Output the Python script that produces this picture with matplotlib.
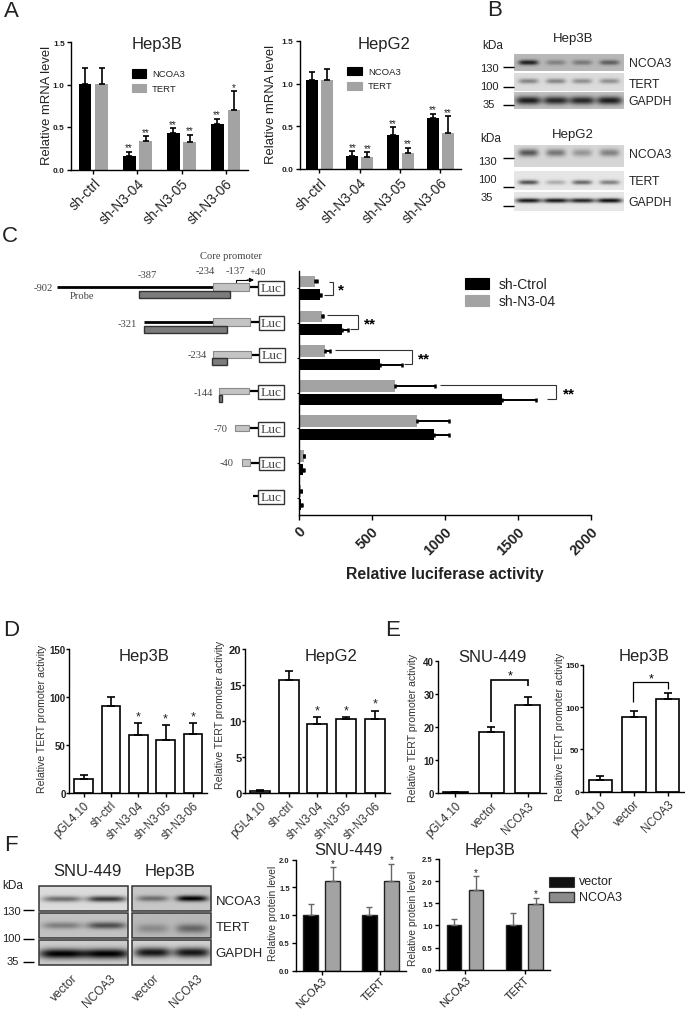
import numpy as np
import matplotlib
matplotlib.use('Agg')
import matplotlib.pyplot as plt

plt.rcParams['font.family'] = ['Liberation Sans', 'DejaVu Sans']

W, H = 685, 1012
GRAY = '#a3a3a3'
TXT = '#222222'

# panel A
a_groups = ['sh-ctrl', 'sh-N3-04', 'sh-N3-05', 'sh-N3-06']
a1_ncoa3 = [1.01, 0.16, 0.43, 0.53]
a1_ncoa3_err = [0.18, 0.05, 0.06, 0.07]
a1_tert = [1.01, 0.34, 0.32, 0.70]
a1_tert_err = [0.19, 0.05, 0.09, 0.22]
a2_ncoa3 = [1.04, 0.15, 0.40, 0.60]
a2_ncoa3_err = [0.10, 0.06, 0.09, 0.05]
a2_tert = [1.04, 0.14, 0.19, 0.42]
a2_tert_err = [0.13, 0.06, 0.06, 0.20]
a1_stars = [['', ''], ['**', '**'], ['**', '**'], ['**', '*']]
a2_stars = [['', ''], ['**', '**'], ['**', '**'], ['**', '**']]

# panel B, band strength per lane
b_lanes = [0.13, 0.38, 0.62, 0.87]
b1_ncoa3 = [0.85, 0.3, 0.35, 0.5]
b1_tert = [0.4, 0.4, 0.35, 0.35]
b1_gapdh = [0.85, 0.8, 0.8, 0.85]
b2_ncoa3 = [0.6, 0.45, 0.3, 0.4]
b2_tert = [0.65, 0.25, 0.55, 0.45]
b2_gapdh = [0.9, 0.9, 0.85, 0.95]

# panel C
c_rows = 7
c_gray = [110, 164, 178, 660, 813, 35, 16]
c_gray_err = [16, 7, 39, 272, 217, 6, 4]
c_black = [144, 301, 557, 1393, 925, 34, 20]
c_black_err = [9, 37, 151, 232, 105, 2, 3]
c_ticks = [0, 500, 1000, 1500, 2000]

# panel D
d_labels = ['pGL4.10', 'sh-ctrl', 'sh-N3-04', 'sh-N3-05', 'sh-N3-06']
d1_vals = [14, 90, 60, 55, 61]
d1_err = [4.5, 9.5, 12.5, 15.5, 11.5]
d2_vals = [0.3, 15.7, 9.5, 10.3, 10.2]
d2_err = [0.05, 1.2, 1.0, 0.15, 1.2]
d_stars = ['', '', '*', '*', '*']

# panel E
e_labels = ['pGL4.10', 'vector', 'NCOA3']
e1_vals = [0.3, 18.6, 26.7]
e1_err = [0.05, 1.5, 2.5]
e2_vals = [14, 88, 110]
e2_err = [4, 7.5, 7]

# panel F
f_groups = ['NCOA3', 'TERT']
f1_vector = [1.0, 1.0]
f1_vector_err = [0.21, 0.14]
f1_ncoa3 = [1.61, 1.62]
f1_ncoa3_err = [0.25, 0.31]
f2_vector = [1.0, 1.0]
f2_vector_err = [0.14, 0.27]
f2_ncoa3 = [1.81, 1.49]
f2_ncoa3_err = [0.30, 0.14]
f_stars = [['', '*'], ['', '*']]
f1_snu_ncoa3 = [0.5, 0.75]
f1_snu_tert = [0.35, 0.6]
f1_snu_gapdh = [1.0, 1.0]
f1_hep_ncoa3 = [0.45, 1.0]
f1_hep_tert = [0.25, 0.45]
f1_hep_gapdh = [0.9, 0.9]

fig = plt.figure(figsize=(W / 100, H / 100), dpi=100)

# whole figure overlay in pixel units, for text and the promoter diagram
ov = fig.add_axes([0, 0, 1, 1], zorder=10)
ov.set_xlim(0, W)
ov.set_ylim(H, 0)
ov.axis('off')
ov.patch.set_alpha(0)


def txt(x, y, s, size=9, ha='center', va='center', **kw):
    kw.setdefault('color', TXT)
    ov.text(x, y, s, fontsize=size, ha=ha, va=va, **kw)


def seg(xs, ys, lw=1.0, color='black'):
    ov.plot(xs, ys, color=color, lw=lw, solid_capstyle='butt', solid_joinstyle='miter')


def box(x0, x1, y0, y1, face, edge='#555555', lw=0.8, z=3):
    ov.add_patch(plt.Rectangle((x0, y0), x1 - x0, y1 - y0, fc=face, ec=edge, lw=lw, zorder=z))


def make_ax(x0, x1, ytop, ybot):
    ax = fig.add_axes([x0 / W, 1 - ybot / H, (x1 - x0) / W, (ybot - ytop) / H])
    ax.spines[['top', 'right']].set_visible(False)
    ax.spines[['left', 'bottom']].set_linewidth(1.0)
    ax.patch.set_alpha(0)
    return ax


def stars(ax, x, top, s, off=1.5, size=7):
    if s:
        ax.annotate(s, (x, top), xytext=(0, off), textcoords='offset points', ha='center',
                    va='center', fontsize=size, color=TXT, annotation_clip=False)


def grouped(box_px, xlim, width, offset, s1, e1, s2, e2, yticks, labels, marks, tick_size, lab_size,
            fmt='%.1f', edge=None, ecolor='black', star_size=7, star_off=3, err_w=1.2, cap=2.5, xpad=1.5):
    ax = make_ax(*box_px)
    x = np.arange(len(labels))
    for pos, vals, err, col in [(x - offset, s1, e1, 'black'), (x + offset, s2, e2, GRAY)]:
        ax.bar(pos, vals, width, color=col, edgecolor=edge if edge else col, linewidth=1.0 if edge else 0,
               yerr=[np.zeros(len(vals)), err], ecolor=ecolor,
               error_kw=dict(lw=err_w, capsize=cap, capthick=err_w))
    for i, m in enumerate(marks):
        stars(ax, x[i] - offset, s1[i] + e1[i], m[0], star_off, star_size)
        stars(ax, x[i] + offset, s2[i] + e2[i], m[1], star_off, star_size)
    ax.set_xlim(*xlim)
    ax.set_ylim(yticks[0], yticks[-1])
    ax.set_yticks(yticks, [fmt % t for t in yticks], fontsize=tick_size, fontweight='bold', color=TXT)
    ax.set_xticks(x, labels, rotation=45, ha='right', rotation_mode='anchor', fontsize=lab_size, color=TXT)
    ax.tick_params(axis='y', length=3, width=1.0, pad=1.5)
    ax.tick_params(axis='x', length=3, width=1.0, pad=xpad)
    return ax


def single(box_px, xlim, width, vals, err, yticks, labels, marks, tick_size=8, lab_size=8.3):
    ax = make_ax(*box_px)
    x = np.arange(len(labels))
    ax.bar(x, vals, width, color='white', edgecolor='black', linewidth=1.2,
           yerr=[np.zeros(len(vals)), err], ecolor='black',
           error_kw=dict(lw=1.2, capsize=3.2, capthick=1.2))
    for i, m in enumerate(marks):
        stars(ax, x[i], vals[i] + err[i], m, 5, 9)
    ax.set_xlim(*xlim)
    ax.set_ylim(yticks[0], yticks[-1])
    ax.set_yticks(yticks, [str(t) for t in yticks], fontsize=tick_size, fontweight='bold', color=TXT)
    ax.set_xticks(x, labels, rotation=45, ha='right', rotation_mode='anchor', fontsize=lab_size, color='#333333')
    ax.tick_params(axis='x', length=3, width=1.0, pad=1.5)
    ax.tick_params(axis='y', length=2, width=1.0, pad=0.5)
    return ax


def blot(x0, x1, y0, y1, lanes, strength, lane_w=0.09, thick=0.17, bg=0.82, edge=None, cy=0.5):
    # grey gel strip, one soft band per lane
    xx, yy = np.meshgrid(np.linspace(0, 1, 220), np.linspace(0, 1, 60))
    img = np.full(xx.shape, 0.0)
    for c, s in zip(lanes, strength):
        img += s * np.exp(-((xx - c) / lane_w) ** 4) * np.exp(-((yy - cy) / thick) ** 2)
    img = np.clip(bg * (1 - img), 0, 1)
    ov.imshow(img, extent=(x0, x1, y1, y0), cmap='gray', vmin=0, vmax=1, aspect='auto',
              interpolation='bilinear', zorder=2)
    if edge:
        ov.add_patch(plt.Rectangle((x0, y0), x1 - x0, y1 - y0, fc='none', ec=edge, lw=1.1, zorder=3))
    ov.set_xlim(0, W)
    ov.set_ylim(H, 0)


# panel letters
for x, y, s in [(11, 11, 'A'), (495, 10, 'B'), (10, 236, 'C'), (11, 631, 'D'), (393, 631, 'E'), (11, 846, 'F')]:
    txt(x, y, s, size=16, color='#222222')

# A
grouped((71, 248, 43, 170.5), (-0.51, 3.51), 0.29, 0.19, a1_ncoa3, a1_ncoa3_err, a1_tert, a1_tert_err,
        [0, 0.5, 1.0, 1.5], a_groups, a1_stars, 6, 10)
grouped((299.7, 461, 42, 170), (-0.49, 3.51), 0.30, 0.186, a2_ncoa3, a2_ncoa3_err, a2_tert, a2_tert_err,
        [0, 0.5, 1.0, 1.5], a_groups, a2_stars, 6, 10)
txt(157, 44, 'Hep3B', 12)
txt(384, 44, 'HepG2', 12)
txt(47, 105, 'Relative mRNA level', 9.4, rotation=90)
txt(271, 104, 'Relative mRNA level', 9.4, rotation=90)
box(132, 146, 70, 79, 'black', 'black')
box(132, 146, 85, 93, GRAY, GRAY)
txt(152, 74.5, 'NCOA3', 6.8, ha='left')
txt(152, 89, 'TERT', 6.8, ha='left')
box(347, 362, 68, 76, 'black', 'black')
box(347, 362, 83, 91, GRAY, GRAY)
txt(368, 72, 'NCOA3', 6.8, ha='left')
txt(368, 86, 'TERT', 6.8, ha='left')

# B
blot(514, 624, 55, 72, b_lanes, b1_ncoa3, thick=0.15, bg=0.72, cy=0.5)
blot(514, 624, 74, 92, b_lanes, b1_tert, thick=0.14, bg=0.86, cy=0.45)
blot(514, 624, 93, 110, b_lanes, b1_gapdh, lane_w=0.115, thick=0.24, bg=0.76, cy=0.5)
blot(514, 624, 146, 168, b_lanes, b2_ncoa3, bg=0.84, cy=0.35)
blot(514, 624, 172, 191, b_lanes, b2_tert, thick=0.12, bg=0.9, cy=0.6)
blot(514, 624, 193, 212, b_lanes, b2_gapdh, lane_w=0.115, thick=0.12, bg=0.9, cy=0.45)
txt(573, 39, 'Hep3B', 9.5)
txt(573, 135, 'HepG2', 9.5)
txt(493, 46, 'kDa', 8.5)
txt(491, 139, 'kDa', 8.5)
for y_txt, y_tick, s, x_txt in [(69, 68, '130', 489), (87, 88, '100', 489), (105, 106, '35', 489),
                                (162, 159, '130', 487), (180, 188, '100', 487), (198, 207, '35', 487)]:
    txt(x_txt, y_txt, s, 8)
    seg([503, 514], [y_tick, y_tick], 1.0)
for y, s, x in [(64, 'NCOA3', 629), (85, 'TERT', 629), (102, 'GAPDH', 628),
                (155, 'NCOA3', 629), (182, 'TERT', 629), (203, 'GAPDH', 628)]:
    txt(x, y, s, 8.8, ha='left')

# C, promoter diagram
LIGHT = '#c4c4c4'
DARK = '#7c7c7c'
SER = dict(family=['Liberation Serif', 'DejaVu Serif'], color='#444444')
seg([57, 213], [288, 288], 2.0)
seg([144, 213], [323, 323], 2.0)
for x0, x1, y0, y1 in [(213, 249, 284, 292), (213, 250, 319, 327), (213, 251, 352, 359),
                       (219, 249, 389, 395), (235, 249, 426, 432), (242, 250, 460, 467)]:
    box(x0, x1, y0, y1, LIGHT, '#8a8a8a')
    seg([x1, x1 + 9], [(y0 + y1) / 2, (y0 + y1) / 2], 1.6)
seg([253, 258], [497, 497], 1.6)
for x0, x1, y0, y1 in [(139, 230, 292, 299), (144, 227, 327, 334), (212, 227, 359, 366), (219, 222, 396, 403)]:
    box(x0, x1, y0, y1, DARK, '#333333', lw=1.0)
for x0, x1, y0, y1 in [(258, 284, 282, 296), (259, 284, 317, 331), (259, 285, 349, 363), (258, 284, 386, 400),
                       (258, 284, 423, 437), (259, 284, 458, 471), (258, 284, 491, 505)]:
    box(x0, x1, y0, y1, 'white', '#333333', lw=1.0)
    txt((x0 + x1) / 2, (y0 + y1) / 2, 'Luc', 9.7, **SER)
for x, y, s in [(53, 288, '-902'), (137, 324, '-321'), (207, 355, '-234'), (213, 393, '-144'),
                (228, 430, '-70'), (234, 464, '-40')]:
    txt(x, y, s, 7.6, ha='right', **SER)
for x, y, s in [(82, 296, 'Probe'), (147, 275, '-387'), (205, 271, '-234'), (235, 271, '-137'),
                (258, 272, '+40'), (231, 256, 'Core promoter')]:
    txt(x, y, s, 7.6, **SER)
seg([236, 236, 248], [284, 281, 281], 0.8)
ov.annotate('', xy=(254, 281), xytext=(247, 281),
            arrowprops=dict(arrowstyle='-|>', color='black', lw=0.8, mutation_scale=6, shrinkA=0, shrinkB=0))

# C, chart
ax_c = make_ax(298.5, 590.7, 272, 515.7)
y_c = np.arange(c_rows)
for pos, vals, err, col in [(y_c - 0.195, c_gray, c_gray_err, GRAY), (y_c + 0.195, c_black, c_black_err, 'black')]:
    ax_c.barh(pos, vals, 0.32, color=col, xerr=[np.zeros(c_rows), err], ecolor='black',
              error_kw=dict(lw=1.4, capsize=1.5, capthick=1.8))
ax_c.set_ylim(6.485, -0.486)
ax_c.set_xlim(c_ticks[0], c_ticks[-1])
ax_c.set_yticks(y_c, [''] * c_rows)
ax_c.set_xticks(c_ticks, [str(t) for t in c_ticks], rotation=45, ha='right', rotation_mode='anchor',
                fontsize=10.5, fontweight='bold', color=TXT)
ax_c.tick_params(axis='x', length=3.5, width=1.0, pad=3)
ax_c.tick_params(axis='y', length=1.5, width=0.8)
txt(445, 574, 'Relative luciferase activity', 11.3, fontweight='bold')
box(465, 489, 279, 290, 'black', 'black')
box(465, 489, 296, 307, GRAY, GRAY)
txt(499, 284.5, 'sh-Ctrol', 10, ha='left')
txt(499, 302, 'sh-N3-04', 10, ha='left')
for x0, x1, xv, ytop, ybot, s, xs in [(329, 333, 324, 282.7, 295.7, '*', 341),
                                      (327, 358.5, 350, 316, 330.3, '**', 370),
                                      (335.5, 412.5, 404.5, 350.7, 365.3, '**', 423.5),
                                      (440.5, 556.5, 547, 385.7, 400.3, '**', 568.5)]:
    seg([x0, x1, x1, xv], [ytop, ytop, ybot, ybot], 0.8, '#333333')
    txt(xs, (ytop + ybot) / 2 + 1, s, 11, fontweight='bold', color='black')

# D
single((69, 207, 650, 793.7), (-0.53, 4.51), 0.68, d1_vals, d1_err, [0, 50, 100, 150], d_labels, d_stars,
       tick_size=7)
single((245, 390, 649.7, 793.7), (-0.52, 4.53), 0.70, d2_vals, d2_err, [0, 5, 10, 15, 20], d_labels, d_stars)
txt(144, 657, 'Hep3B', 12)
txt(330.7, 657, 'HepG2', 12)
txt(42, 719, 'Relative TERT promoter activity', 7.6, rotation=90, color='#333333')
txt(220, 715, 'Relative TERT promoter activity', 7.6, rotation=90, color='#333333')

# E
single((437.7, 546, 662, 794), (-0.49, 2.51), 0.70, e1_vals, e1_err, [0, 10, 20, 30, 40], e_labels, ['', '', ''],
       tick_size=7)
single((582.7, 685, 665.7, 792.7), (-0.53, 2.52), 0.69, e2_vals, e2_err, [0, 50, 100, 150], e_labels, ['', '', ''],
       tick_size=6)
txt(492.7, 657, 'SNU-449', 12)
txt(644, 657, 'Hep3B', 12)
txt(413, 728, 'Relative TERT promoter activity', 7.6, rotation=90, color='#333333')
txt(560, 727, 'Relative TERT promoter activity', 7.6, rotation=90, color='#333333')
seg([490.7, 490.7, 527.7, 527.7], [723, 680.7, 680.7, 687], 1.2)
txt(510, 676, '*', 9, color='black')
seg([633, 633, 667.7, 667.7], [703, 683.3, 683.3, 690], 0.9)
txt(651, 679, '*', 9, color='black')

# F, blots
lanes_f = [0.26, 0.76]
EDGE = '#333333'
blot(39, 128, 887, 912, lanes_f, f1_snu_ncoa3, lane_w=0.22, thick=0.12, bg=0.86, edge=EDGE, cy=0.52)
blot(39, 128, 914, 939, lanes_f, f1_snu_tert, lane_w=0.22, thick=0.14, bg=0.76, edge=EDGE, cy=0.5)
blot(39, 128, 941, 966, lanes_f, f1_snu_gapdh, lane_w=0.26, thick=0.2, bg=0.8, edge=EDGE, cy=0.55)
blot(132, 211, 887, 912, lanes_f, f1_hep_ncoa3, lane_w=0.2, thick=0.12, bg=0.78, edge=EDGE, cy=0.5)
blot(132, 211, 914, 939, lanes_f, f1_hep_tert, lane_w=0.2, thick=0.18, bg=0.72, edge=EDGE, cy=0.62)
blot(132, 211, 941, 966, lanes_f, f1_hep_gapdh, lane_w=0.23, thick=0.2, bg=0.82, edge=EDGE, cy=0.5)
txt(87, 872, 'SNU-449', 12)
txt(170, 872, 'Hep3B', 12)
txt(216, 902, 'NCOA3', 9.5, ha='left')
txt(216, 928, 'TERT', 9.5, ha='left')
txt(215, 954, 'GAPDH', 9.5, ha='left')
txt(2, 886, 'kDa', 8.5, ha='left')
for y_txt, y_tick, s, x_r in [(912, 911, '130', 21), (939, 940, '100', 21), (962, 963, '35', 19)]:
    txt(x_r, y_txt, s, 8, ha='right')
    seg([23, 34], [y_tick, y_tick], 1.0)
for x, s in [(72, 'vector'), (110, 'NCOA3'), (154, 'vector'), (197, 'NCOA3')]:
    txt(x, 973, s, 8.6, ha='right', va='top', rotation=45, rotation_mode='anchor', color='#333333')

# F, charts
grouped((296, 406, 860.7, 971.7), (-0.434, 1.437), 0.245, 0.187, f1_vector, f1_vector_err, f1_ncoa3, f1_ncoa3_err,
        [0, 0.5, 1.0, 1.5, 2.0], f_groups, f_stars, 5.5, 8, edge='#222222', ecolor='#666666', star_size=7,
        star_off=3, err_w=1.0, cap=2.5, xpad=0.5)
grouped((439, 550, 860, 970.7), (-0.442, 1.43), 0.24, 0.186, f2_vector, f2_vector_err, f2_ncoa3, f2_ncoa3_err,
        [0, 0.5, 1.0, 1.5, 2.0, 2.5], f_groups, f_stars, 5.5, 8, edge='#222222', ecolor='#666666', star_size=7,
        star_off=3, err_w=1.0, cap=2.5, xpad=0.5)
txt(348, 851, 'SNU-449', 12)
txt(490, 851, 'Hep3B', 12)
txt(273, 913, 'Relative protein level', 7.4, rotation=90, color='#333333')
txt(413, 918, 'Relative protein level', 7.4, rotation=90, color='#333333')
box(549, 574, 878, 888, '#111111', '#333333')
box(549, 574, 893, 903, '#8c8c8c', '#333333', lw=1.0)
txt(579, 882.5, 'vector', 9, ha='left')
txt(579, 898.5, 'NCOA3', 9, ha='left')

fig.savefig('out.png', dpi=100)
